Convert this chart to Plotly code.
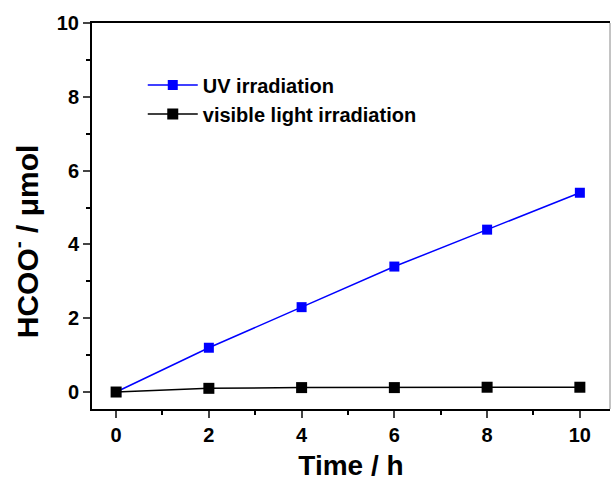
import plotly.graph_objects as go

time_h = [0, 2, 4, 6, 8, 10]
uv_values = [0.0, 1.2, 2.3, 3.4, 4.4, 5.4]
vis_values = [0.0, 0.1, 0.12, 0.12, 0.13, 0.13]
x_ticks = [0, 2, 4, 6, 8, 10]
y_ticks = [0, 2, 4, 6, 8, 10]

FONT = "Arial, Liberation Sans, sans-serif"

fig = go.Figure()
fig.add_trace(go.Scatter(x=time_h, y=uv_values, mode="lines+markers", name="UV irradiation",
                         line=dict(color="#0000ff", width=1.5),
                         marker=dict(symbol="square", size=10, color="#0000ff")))
fig.add_trace(go.Scatter(x=time_h, y=vis_values, mode="lines+markers", name="visible light irradiation",
                         line=dict(color="black", width=1.5),
                         marker=dict(symbol="square", size=11, color="black")))

tick_font = dict(family=FONT, size=20, color="black", weight="bold")
title_font = dict(family=FONT, size=28, color="black", weight="bold")
fig.update_layout(
    width=611, height=483,
    margin=dict(l=92, r=1, t=23, b=74),
    plot_bgcolor="white", paper_bgcolor="white",
    font=dict(family=FONT, color="black"),
    showlegend=True,
    legend=dict(x=0.098, y=0.89, xanchor="left", yanchor="top", bgcolor="rgba(0,0,0,0)",
                font=dict(family=FONT, size=20, color="black", weight="bold"),
                itemwidth=50, tracegroupgap=0),
    xaxis=dict(range=[-0.52, 10.65], tickvals=x_ticks, ticks="outside", ticklen=7, tickwidth=2,
               showline=True, linewidth=2, linecolor="black", mirror=True, showgrid=False, zeroline=False,
               tickfont=tick_font,
               minor=dict(ticks="outside", ticklen=4, tickwidth=2, dtick=1, tick0=0, tickcolor="black"),
               title=dict(text="Time / h", font=title_font, standoff=10)),
    yaxis=dict(range=[-0.46, 10], tickvals=y_ticks, ticks="outside", ticklen=7, tickwidth=2,
               showline=True, linewidth=2, linecolor="black", showgrid=False, zeroline=False,
               tickfont=tick_font,
               minor=dict(ticks="outside", ticklen=4, tickwidth=2, dtick=1, tick0=0, tickcolor="black")),
)
fig.add_annotation(text="HCOO<sup>-</sup> / μmol", textangle=-90, xref="paper", yref="paper",
                   x=-0.129, y=0.435, xanchor="center", yanchor="middle", showarrow=False,
                   font=dict(family=FONT, size=30, color="black", weight="bold"))
fig.add_shape(type="line", xref="paper", yref="paper", x0=1, x1=1, y0=0, y1=1,
              line=dict(color="#888888", width=1))
fig.write_html("out.html")
